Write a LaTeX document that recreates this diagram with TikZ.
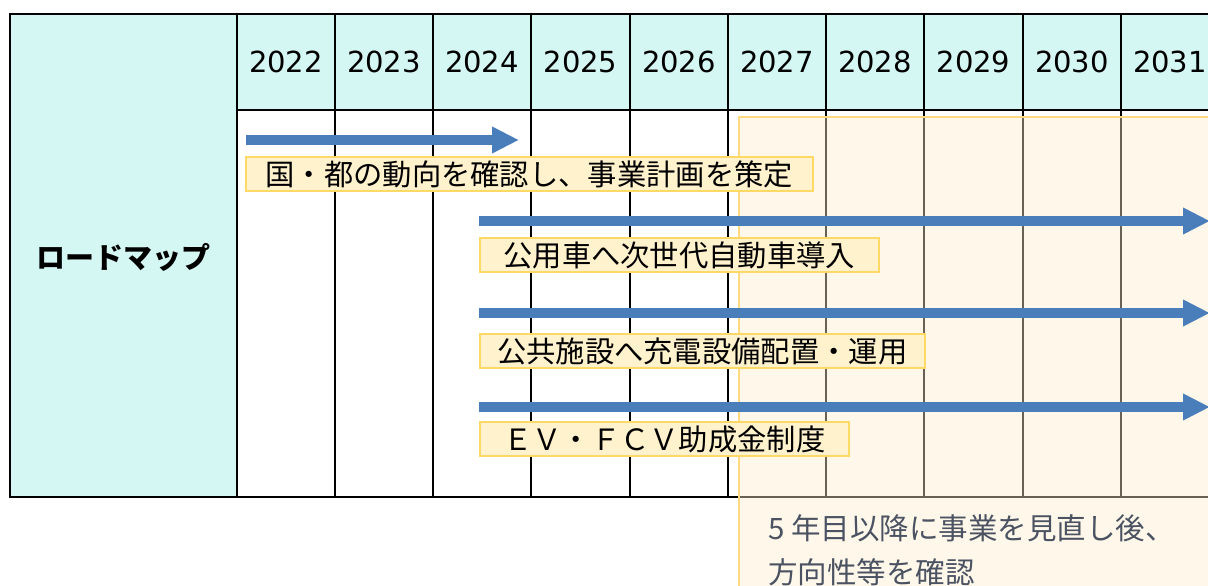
\documentclass[tikz,border=0pt]{standalone}
\usepackage{fontspec}
\setmainfont{Noto Sans CJK JP}
\newfontfamily\yearfont{DejaVu Sans}
\usetikzlibrary{arrows.meta}
\definecolor{hdr}{HTML}{D5F7F4}
\definecolor{ovlfill}{HTML}{FFEFCD}
\definecolor{ovlline}{HTML}{FFD97F}
\definecolor{lblfill}{HTML}{FFF2CC}
\definecolor{lblline}{HTML}{FFD966}
\definecolor{arrowblue}{HTML}{4A7EBB}
\definecolor{notegray}{HTML}{4B5363}
\tikzset{
  gridline/.style={line width=2pt, black},
  yearlbl/.style={font=\yearfont\fontsize{29}{31}\selectfont, inner sep=0pt},
  lblbox/.style={draw=lblline, fill=lblfill, line width=1.5pt, minimum height=34pt, inner sep=0pt, anchor=west, font=\fontsize{29.3}{31}\selectfont},
  bar/.style={draw=arrowblue, line width=10pt, -{Triangle[length=27pt,width=25pt]}},
  notetxt/.style={text=notegray, font=\fontsize{29.5}{44}\selectfont, align=left, anchor=north west, inner sep=0pt}
}
\begin{document}
\begin{tikzpicture}[x=1pt,y=-1pt]
\useasboundingbox (0,0) rectangle (1208,586);
\clip (0,0) rectangle (1208,586);
% fills
\fill[hdr] (10,14) rectangle (237,497);
\fill[hdr] (237,14) rectangle (1230,110);
% grid
\draw[gridline] (10,14) -- (1230,14);
\draw[gridline] (237,110) -- (1230,110);
\draw[gridline] (10,497) -- (1230,497);
\draw[gridline] (10,13) -- (10,498);
\foreach \x in {237,335,433,531,630,728,826,924,1023,1121} {
  \draw[gridline] (\x,14) -- (\x,497);
}
% years
\foreach \yr/\cx in {2022/286,2023/384,2024/482,2025/580.5,2026/679,2027/777,2028/875,2029/973.5,2030/1072,2031/1170} {
  \node[yearlbl] (y\yr) at (\cx,62) {\yr};
}
\node[inner sep=0pt, font=\bfseries\fontsize{29}{31}\selectfont] (rm) at (123,257) {ロードマップ};
% overlay
\fill[ovlfill, fill opacity=0.41] (739,117) rectangle (1230,600);
\draw[ovlline, line width=1.5pt] (1230,117) -- (739,117) -- (739,600);
% arrows
\coordinate (a1s) at (246,140); \coordinate (a1e) at (519,140);
\coordinate (a2s) at (479,221); \coordinate (a2e) at (1210,221);
\coordinate (a3s) at (479,313); \coordinate (a3e) at (1210,313);
\coordinate (a4s) at (479,407); \coordinate (a4e) at (1210,407);
\draw[bar] (a1s) -- (a1e);
\draw[bar] (a2s) -- (a2e);
\draw[bar] (a3s) -- (a3e);
\draw[bar] (a4s) -- (a4e);
% label boxes
\node[lblbox, minimum width=567pt] (l1) at (245,174) {国・都の動向を確認し、事業計画を策定};
\node[lblbox, minimum width=399pt] (l2) at (479,255) {公用車へ次世代自動車導入};
\node[lblbox, minimum width=445pt] (l3) at (479,351) {公共施設へ充電設備配置・運用};
\node[lblbox, minimum width=369pt] (l4) at (479,439) {ＥＶ・ＦＣＶ助成金制度};
% note
\node[notetxt] (note) at (768,514) {5 年目以降に事業を見直し後、\\方向性等を確認};
\end{tikzpicture}
\end{document}
